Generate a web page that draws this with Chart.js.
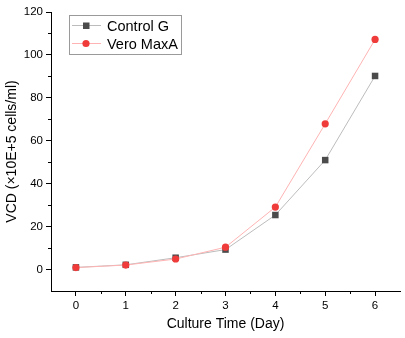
<!DOCTYPE html>
<html>
<head>
<meta charset="utf-8">
<script src="https://cdn.jsdelivr.net/npm/chart.js@4/dist/chart.umd.min.js"></script>
<style>
  html, body { margin: 0; padding: 0; background: #fff; }
  #wrap { position: relative; width: 405px; height: 338px; }
</style>
</head>
<body>
<div id="wrap"><canvas id="c"></canvas></div>
<script>
// Culture days and viable cell density per condition
const days = [0, 1, 2, 3, 4, 5, 6];
const controlG = [1.0, 2.2, 5.5, 9.3, 25.4, 51.0, 90.2];
const veroMaxA = [0.9, 2.1, 4.9, 10.4, 29.1, 67.9, 107.2];
const seriesNames = ['Control G', 'Vero MaxA'];
const yTicks = [0, 20, 40, 60, 80, 100, 120];
const xTicks = [0, 1, 2, 3, 4, 5, 6];

const FONT = '"Liberation Sans", Arial, sans-serif';

const toPoints = vals => days.map((d, i) => ({ x: d, y: vals[i] }));

// Minor ticks halfway between major ticks, plus a boxed legend with line+marker samples
const extras = {
  id: 'extras',
  afterDraw(chart) {
    const ctx = chart.ctx;
    const xs = chart.scales.x, ys = chart.scales.y;
    const area = chart.chartArea;
    ctx.save();
    ctx.strokeStyle = '#000';
    ctx.lineWidth = 1;
    ctx.beginPath();
    for (let v = 10; v <= 110; v += 20) {
      const py = Math.round(ys.getPixelForValue(v)) + 0.5;
      ctx.moveTo(area.left, py);
      ctx.lineTo(area.left - 3, py);
    }
    for (let v = 0.5; v <= 5.5; v += 1) {
      const px = Math.round(xs.getPixelForValue(v)) + 0.5;
      ctx.moveTo(px, area.bottom);
      ctx.lineTo(px, area.bottom + 3);
    }
    ctx.stroke();

    // legend
    const bx = 69.5, by = 15.5, bw = 112, bh = 39;
    ctx.fillStyle = '#fff';
    ctx.fillRect(bx, by, bw, bh);
    ctx.strokeStyle = '#9a9a9a';
    ctx.strokeRect(bx, by, bw, bh);
    ctx.font = '14.5px ' + FONT;
    ctx.textBaseline = 'middle';
    chart.data.datasets.slice().sort((a, b) => a.legendIndex - b.legendIndex).forEach((ds, i) => {
      const cy = 25.5 + i * 18;
      ctx.strokeStyle = ds.borderColor;
      ctx.lineWidth = 1;
      ctx.beginPath();
      ctx.moveTo(72, cy);
      ctx.lineTo(101, cy);
      ctx.stroke();
      ctx.fillStyle = ds.pointBackgroundColor;
      if (ds.pointStyle === 'rect') {
        ctx.fillRect(83, cy - 3, 6.5, 6.5);
      } else {
        ctx.beginPath();
        ctx.arc(86, cy, 3.6, 0, Math.PI * 2);
        ctx.fill();
      }
      ctx.fillStyle = '#000';
      ctx.fillText(ds.label, 107, cy + 1);
    });
    ctx.restore();
  }
};

new Chart(document.getElementById('c'), {
  type: 'line',
  data: {
    datasets: [
      {
        label: seriesNames[0],
        legendIndex: 0,
        order: 2,
        data: toPoints(controlG),
        borderColor: '#bcbcbc',
        borderWidth: 1,
        pointStyle: 'rect',
        pointRadius: 4.6,
        pointBackgroundColor: '#4b4b4b',
        pointBorderColor: '#4b4b4b',
        pointBorderWidth: 0,
        tension: 0
      },
      {
        label: seriesNames[1],
        legendIndex: 1,
        order: 1,
        data: toPoints(veroMaxA),
        borderColor: '#ffb3b3',
        borderWidth: 1,
        pointStyle: 'circle',
        pointRadius: 3.6,
        pointBackgroundColor: '#f03b3b',
        pointBorderColor: '#f03b3b',
        pointBorderWidth: 0,
        tension: 0
      }
    ]
  },
  options: {
    responsive: true,
    maintainAspectRatio: false,
    animation: false,
    layout: { padding: { top: 12, right: 5, left: 0, bottom: 0 } },
    plugins: { legend: { display: false }, tooltip: { enabled: false } },
    scales: {
      x: {
        type: 'linear',
        min: -0.5,
        max: 6.5,
        afterBuildTicks(scale) { scale.ticks = xTicks.map(v => ({ value: v })); },
        afterFit(scale) { scale.height = 47; },
        grid: { display: true, drawOnChartArea: false, drawTicks: true, tickLength: 5, color: '#000' },
        border: { display: true, color: '#000', width: 1 },
        ticks: { color: '#000', font: { family: FONT, size: 11.5 }, padding: 3, maxRotation: 0 },
        title: { display: true, text: 'Culture Time (Day)', color: '#000', font: { family: FONT, size: 14 }, padding: { top: 4, bottom: 5 } }
      },
      y: {
        type: 'linear',
        min: -10,
        max: 120,
        afterBuildTicks(scale) { scale.ticks = yTicks.map(v => ({ value: v })); },
        afterFit(scale) { scale.width = 51; },
        grid: { display: true, drawOnChartArea: false, drawTicks: true, tickLength: 5, color: '#000' },
        border: { display: true, color: '#000', width: 1 },
        ticks: { color: '#000', font: { family: FONT, size: 11.5 }, padding: 3 },
        title: { display: true, text: 'VCD (×10E+5 cells/ml)', color: '#000', font: { family: FONT, size: 14 }, padding: { top: 4, bottom: 4 } }
      }
    }
  },
  plugins: [extras]
});
</script>
</body>
</html>
